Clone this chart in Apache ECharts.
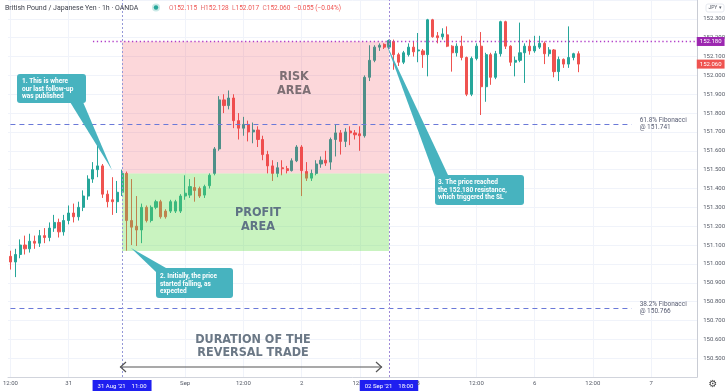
<!DOCTYPE html>
<html>
<head>
<meta charset="utf-8">
<script src="https://cdn.jsdelivr.net/npm/echarts@6/dist/echarts.min.js"></script>
<style>
html,body{margin:0;padding:0;background:#ffffff;}
#chart{width:728px;height:391px;}
</style>
</head>
<body>
<div id="chart"></div>
<script>
// ---------------- DATA ----------------
const openP = [151.04,151.01,151.05,151.10,151.08,151.12,151.11,151.15,151.14,151.19,
151.22,151.17,151.23,151.27,151.25,151.30,151.36,151.45,151.50,151.52,
151.37,151.34,151.33,151.38,151.48,151.23,151.20,151.18,151.30,151.23,
151.30,151.33,151.28,151.28,151.28,151.28,151.36,151.365,151.405,151.40,
151.365,151.415,151.48,151.61,151.87,151.84,151.88,151.76,151.72,151.74,
151.70,151.71,151.66,151.58,151.52,151.48,151.51,151.505,151.495,151.547,
151.62,151.49,151.455,151.48,151.53,151.55,151.54,151.66,151.695,151.65,
151.705,151.695,151.69,151.68,151.99,152.08,152.15,152.165,152.15,152.18,
152.11,152.07,152.11,152.15,152.13,152.13,152.11,152.295,152.21,152.205,
152.215,152.155,152.12,152.155,152.095,151.90,152.09,152.155,151.94,152.11,
151.99,152.115,152.285,152.155,152.07,152.08,152.12,152.155,152.13,152.15,
152.17,152.115,152.135,152.02,152.085,152.06,152.095,152.115];
const closeP = [151.01,151.05,151.10,151.08,151.12,151.11,151.15,151.14,151.19,151.22,
151.17,151.23,151.27,151.25,151.30,151.36,151.45,151.50,151.52,151.37,
151.33,151.33,151.38,151.48,151.23,151.195,151.18,151.30,151.23,151.30,
151.33,151.25,151.25,151.33,151.33,151.36,151.375,151.41,151.39,151.36,
151.41,151.47,151.61,151.87,151.84,151.88,151.76,151.72,151.74,151.70,
151.71,151.66,151.58,151.52,151.48,151.51,151.505,151.495,151.547,151.62,
151.495,151.455,151.48,151.53,151.55,151.535,151.66,151.695,151.65,151.70,
151.695,151.685,151.68,151.99,152.08,152.15,152.16,152.15,152.185,152.11,
152.07,152.12,152.15,152.125,152.135,152.11,152.295,152.205,152.20,152.22,
152.155,152.12,152.155,152.095,151.90,152.09,152.155,151.94,152.11,151.99,
152.115,152.285,152.155,152.07,152.08,152.12,152.155,152.13,152.155,152.17,
152.115,152.135,152.02,152.085,152.06,152.095,152.115,152.06];
const lowP = [150.97,150.93,151.03,151.05,151.06,151.08,151.09,151.11,151.12,151.17,
151.14,151.15,151.21,151.22,151.23,151.28,151.34,151.43,151.46,151.35,
151.30,151.26,151.27,151.36,151.07,151.10,151.095,151.11,151.22,151.22,
151.29,151.24,151.24,151.27,151.27,151.27,151.34,151.35,151.33,151.35,
151.35,151.40,151.47,151.60,151.80,151.82,151.72,151.66,151.68,151.65,
151.64,151.62,151.55,151.48,151.44,151.46,151.47,151.48,151.49,151.54,
151.36,151.44,151.44,151.47,151.51,151.52,151.50,151.57,151.58,151.62,
151.63,151.66,151.60,151.67,151.97,152.07,152.13,152.14,152.14,152.03,
152.05,152.06,152.10,152.10,152.07,152.04,151.995,152.20,152.17,152.19,
152.15,152.02,152.10,152.08,151.89,151.89,152.08,151.79,151.86,151.95,
151.98,152.10,152.14,152.05,151.995,152.07,151.96,152.11,152.12,152.14,
152.06,152.10,151.99,151.97,152.04,152.04,152.08,152.017];
const highP = [151.07,151.08,151.13,151.15,151.16,151.15,151.18,151.19,151.22,151.26,
151.24,151.26,151.31,151.32,151.33,151.39,151.47,151.54,151.65,151.53,
151.39,151.46,151.44,151.50,151.49,151.45,151.36,151.32,151.31,151.31,
151.34,151.34,151.29,151.34,151.34,151.37,151.47,151.45,151.46,151.41,
151.42,151.48,151.62,151.89,151.90,151.92,151.90,151.80,151.78,151.76,
151.75,151.73,151.68,151.60,151.55,151.54,151.55,151.52,151.56,151.63,
151.63,151.54,151.50,151.55,151.57,151.60,151.67,151.74,151.71,151.72,
151.73,151.71,151.73,152.00,152.16,152.16,152.17,152.17,152.19,152.19,
152.12,152.13,152.17,152.18,152.225,152.14,152.30,152.30,152.23,152.25,
152.26,152.16,152.17,152.21,152.10,152.10,152.17,152.23,152.12,152.12,
152.13,152.29,152.29,152.16,152.10,152.28,152.17,152.19,152.21,152.21,
152.18,152.15,152.14,152.10,152.09,152.26,152.12,152.128];

const tickIdx  = [0, 12, 36, 48, 60, 72, 84, 96, 108, 120, 132];
const tickText = ['12:00','31','Sep','12:00','2','12:00','3','12:00','6','12:00','7'];
const eventIdx  = [23, 78];
const eventDate = ["31 Aug '21", "02 Sep '21"];
const eventTime = ['11:00', '18:00'];
const zoneEdges = [152.18, 151.48, 151.068];   // risk top, entry, profit bottom
const fibLevels = [151.741, 150.766];
const fibNames  = ['61.8% Fibonacci', '38.2% Fibonacci'];
const resistance = 152.18;
const lastClose  = 152.06;
const yMin = 150.4, yMax = 152.4, yStep = 0.1;

// hourly categories (weekend hours skipped like the trading platform)
const categories = [];
(function () {
  let t = Date.UTC(2021, 7, 30, 12);
  const wkStart = Date.UTC(2021, 8, 3, 21), wkEnd = Date.UTC(2021, 8, 5, 21);
  for (let i = 0; i < 142; i++) {
    if (t >= wkStart && t < wkEnd) t = wkEnd;
    categories.push(new Date(t).toISOString().slice(0, 13) + ':00');
    t += 3600000;
  }
})();

const candles = openP.map((o, i) => [o, closeP[i], lowP[i], highP[i]]);

// ---------------- CHART ----------------
const UP = '#26a69a', DOWN = '#ef5350';
const chart = echarts.init(document.getElementById('chart'), null, {renderer: 'canvas'});
const lbl = {fontSize: 6, color: '#555a66', fontFamily: 'Roboto, sans-serif'};

const fibLines = fibLevels.map((v, k) => [
  {coord: [0, v], lineStyle: {color: '#6a79d8', width: 1, type: [5, 4]},
   label: {show: true, position: 'end', distance: 8, formatter: fibNames[k] + '\n@ ' + v.toFixed(3),
           color: '#555a70', fontSize: 6.5, lineHeight: 7, fontFamily: 'Roboto, sans-serif'}},
  {coord: [128, v]}
]);

const option = {
  animation: false,
  backgroundColor: '#ffffff',
  grid: {left: 0, right: 28, top: 0, bottom: 12},
  xAxis: {
    type: 'category', data: categories, boundaryGap: true,
    axisLine: {show: true, lineStyle: {color: '#d1d4dc'}},
    axisTick: {show: false}, splitLine: {show: false},
    axisLabel: {
      ...lbl, margin: 3, hideOverlap: false,
      interval: (i) => tickIdx.includes(i) || eventIdx.includes(i),
      formatter: (val, i) => {
        const e = eventIdx.indexOf(i);
        if (e >= 0) return '{hl|' + eventDate[e] + '    ' + eventTime[e] + '}';
        const t = tickIdx.indexOf(i);
        return t >= 0 ? tickText[t] : '';
      },
      rich: {hl: {backgroundColor: '#1f1ff0', color: '#ffffff', fontSize: 6, padding: [3, 5, 2, 5],
                  fontFamily: 'Roboto, sans-serif'}}
    }
  },
  yAxis: {
    type: 'value', position: 'right', min: yMin, max: yMax, interval: yStep,
    axisLine: {show: true, lineStyle: {color: '#c9ccd4'}},
    axisTick: {show: false},
    splitLine: {lineStyle: {color: '#f0f3fa'}},
    axisLabel: {...lbl, margin: 6, formatter: (v) =>
      (Math.abs(v - yMax) < 1e-6 || Math.abs(v - yMin) < 1e-6) ? '' : v.toFixed(3)}
  },
  series: [
    { // vertical grid lines at time ticks
      type: 'line', data: [], z: 1, silent: true,
      markLine: {z: 1, symbol: 'none', silent: true, label: {show: false},
        lineStyle: {color: '#f0f3fa', width: 1, type: 'solid'},
        data: tickIdx.map(i => ({xAxis: i}))}
    },
    {
      type: 'candlestick', z: 2, barWidth: 2.6, data: candles,
      itemStyle: {color: UP, color0: DOWN, borderColor: UP, borderColor0: DOWN, borderWidth: 1}
    },
    { // shaded risk / profit zones (drawn over the candles, on an upper layer)
      type: 'line', data: [], zlevel: 1, z: 1, silent: true,
      markArea: {zlevel: 1, z: 1, silent: true, data: [
        [{coord: [eventIdx[0], zoneEdges[0]], itemStyle: {color: 'rgba(242,54,69,0.2)'}},
         {coord: [eventIdx[1], zoneEdges[1]]}],
        [{coord: [eventIdx[0], zoneEdges[1]], itemStyle: {color: 'rgba(100,221,75,0.35)'}},
         {coord: [eventIdx[1], zoneEdges[2]]}]
      ]}
    },
    { // annotation lines
      type: 'line', data: [], zlevel: 1, z: 5, silent: true,
      markLine: {zlevel: 1, z: 5, symbol: 'none', silent: true, label: {show: false}, data: [
        ...fibLines,
        [{coord: [17, resistance], lineStyle: {color: '#b03cc8', width: 1.3, type: [1.3, 2.6]},
          label: {show: true, position: 'end', distance: 2, formatter: resistance.toFixed(3),
                  backgroundColor: '#9c27b0', color: '#fff', fontSize: 6, padding: [2, 3, 1, 3],
                  fontFamily: 'Roboto, sans-serif'}},
         {coord: [141, resistance]}],
        [{coord: [117, lastClose], lineStyle: {color: 'rgba(0,0,0,0)', width: 0},
          label: {show: true, position: 'end', distance: 2, formatter: lastClose.toFixed(3),
                  backgroundColor: '#ef5350', color: '#fff', fontSize: 6, padding: [2, 3, 1, 3],
                  fontFamily: 'Roboto, sans-serif'}},
         {coord: [141, lastClose]}],
        {xAxis: eventIdx[0], lineStyle: {color: '#9599d8', width: 1, type: [2, 2]}},
        {xAxis: eventIdx[1], lineStyle: {color: '#a08ad8', width: 1, type: [2, 2]}}
      ]}
    }
  ],
  graphic: []
};

const CALL = '#47b3bf';
const cfont = 'bold 6.5px Roboto, sans-serif';
function callout(box, tail, text, tx, ty) {
  return {type: 'group', zlevel: 1, z: 100, children: [
    {type: 'polygon', zlevel: 1, z: 100, shape: {points: tail}, style: {fill: CALL}},
    {type: 'rect', zlevel: 1, z: 101, shape: {x: box[0], y: box[1], width: box[2], height: box[3], r: 3}, style: {fill: CALL}},
    {type: 'text', zlevel: 1, z: 102, style: {text: text, x: tx, y: ty, fill: '#ffffff', font: cfont, lineHeight: 7.3,
       align: 'left', verticalAlign: 'top'}}
  ]};
}
const bigFont = 'bold 12.5px "DejaVu Sans Condensed", "DejaVu Sans", sans-serif';
const G = (el) => Object.assign({zlevel: 1, z: 90}, el);
option.graphic = [
  G({type: 'text', style: {text: 'British Pound / Japanese Yen · 1h · OANDA', x: 5, y: 8,
     fill: '#3c3f4a', font: '7px Roboto, sans-serif', verticalAlign: 'middle'}}),
  G({type: 'circle', shape: {cx: 156, cy: 7.5, r: 4}, style: {fill: 'rgba(38,166,154,0.25)'}}),
  G({type: 'circle', z: 91, shape: {cx: 156, cy: 7.5, r: 2.2}, style: {fill: UP}}),
  G({type: 'text', style: {
     text: '{l|O}{v|' + openP[117].toFixed(3) + '} {l|H}{v|' + highP[117].toFixed(3) + '} {l|L}{v|' +
           lowP[117].toFixed(3) + '} {l|C}{v|' + closeP[117].toFixed(3) + '} {v|−0.055 (−0.04%)}',
     x: 169, y: 8, verticalAlign: 'middle',
     rich: {l: {fill: '#e57373', font: '6.5px Roboto, sans-serif'}, v: {fill: '#ef5350', font: '6.5px Roboto, sans-serif'}}}}),
  G({type: 'rect', shape: {x: 706, y: 4, width: 18, height: 8, r: 2},
     style: {fill: '#fff', stroke: '#e0e3eb', lineWidth: 0.8}}),
  G({type: 'text', z: 91, style: {text: 'JPY ▾', x: 715, y: 8, fill: '#555a66',
     font: '5px Roboto, sans-serif', align: 'center', verticalAlign: 'middle'}}),
  G({type: 'text', style: {text: '⚙', x: 713, y: 384, fill: '#444',
     font: '10px "DejaVu Sans", sans-serif', align: 'center', verticalAlign: 'middle'}}),
  G({type: 'text', style: {text: 'RISK\nAREA', x: 294, y: 84, fill: '#7d6f74', font: bigFont,
     lineHeight: 14, align: 'center', verticalAlign: 'middle'}}),
  G({type: 'text', style: {text: 'PROFIT\nAREA', x: 258, y: 219.5, fill: '#5f7385', font: bigFont,
     lineHeight: 13.5, align: 'center', verticalAlign: 'middle'}}),
  G({type: 'text', style: {text: 'DURATION OF THE\nREVERSAL TRADE', x: 253, y: 346.5, fill: '#6b7886',
     font: bigFont, lineHeight: 13, align: 'center', verticalAlign: 'middle'}}),
  G({type: 'line', shape: {x1: 120, y1: 367, x2: 382, y2: 367}, style: {stroke: '#555', lineWidth: 1.2}}),
  G({type: 'polyline', shape: {points: [[126, 362], [120.5, 367], [126, 372]]}, style: {stroke: '#555', lineWidth: 1.2, fill: null}}),
  G({type: 'polyline', shape: {points: [[376, 362], [381.5, 367], [376, 372]]}, style: {stroke: '#555', lineWidth: 1.2, fill: null}}),
  callout([17, 74, 69, 29], [[70, 102], [83, 102], [112, 170]],
          '1. This is where\nour last follow-up\nwas published', 22, 78),
  callout([156, 268, 77, 30], [[156, 272], [166, 268], [131, 248]],
          '2. Initially, the price\nstarted falling, as\nexpected', 160, 273),
  callout([435, 175, 89, 30], [[435, 177], [448, 175], [386, 43]],
          '3. The price reached\nthe 152.180 resistance,\nwhich triggered the SL', 438, 179)
];

chart.setOption(option);
</script>
</body>
</html>
